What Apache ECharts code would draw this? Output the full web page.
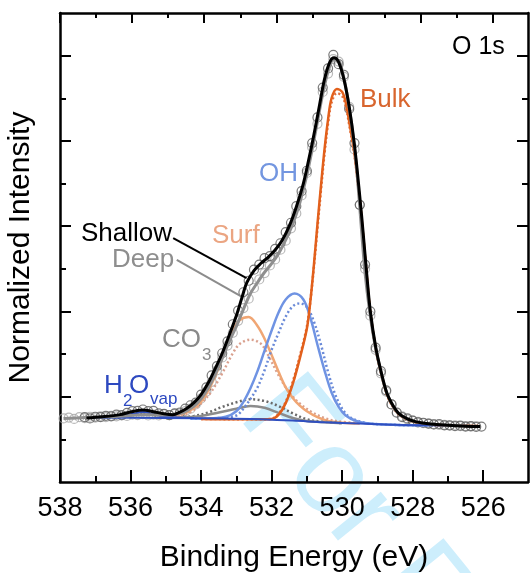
<!DOCTYPE html>
<html>
<head>
<meta charset="utf-8">
<script src="https://cdn.jsdelivr.net/npm/echarts@6.0.0/dist/echarts.min.js"></script>
<style>
  html, body { margin: 0; padding: 0; background: #fff; }
  #chart { width: 532px; height: 573px; }
</style>
</head>
<body>
<div id="chart"></div>
<script>
// O 1s spectrum, shallow (solid) vs deep (dotted) fits
const major_ticks = [526, 528, 530, 532, 534, 536, 538];
const minor_ticks = [527, 529, 531, 533, 535, 537];
const y_major_ticks = [2, 4, 6, 8, 10];
const y_minor_ticks = [1, 3, 5, 7, 9];

const shallow_points = [
  [537.30,1.52],[537.15,1.49],[537.00,1.53],[536.85,1.52],[536.70,1.55],[536.55,1.54],[536.40,1.58],[536.25,1.57],
  [536.10,1.62],[535.95,1.66],[535.80,1.67],[535.65,1.70],[535.50,1.66],[535.35,1.67],[535.20,1.61],[535.05,1.60],
  [534.90,1.57],[534.75,1.61],[534.60,1.63],[534.45,1.72],[534.30,1.80],[534.15,1.86],[534.00,2.05],[533.85,2.22],
  [533.70,2.50],[533.55,2.72],[533.40,3.02],[533.25,3.30],[533.10,3.70],[532.95,4.02],[532.80,4.45],[532.65,4.72],
  [532.50,4.98],[532.35,5.10],[532.20,5.25],[532.05,5.30],[531.90,5.47],[531.75,5.60],[531.60,5.86],[531.45,6.08],
  [531.30,6.47],[531.15,6.82],[531.00,7.30],[530.85,7.95],[530.70,8.55],[530.55,9.25],[530.40,9.70],[530.25,10.02],
  [530.10,9.80],[529.95,9.55],[529.80,8.75],[529.65,7.95],[529.50,6.50],[529.35,5.10],[529.20,4.00],[529.05,3.15],
  [528.90,2.60],[528.75,2.15],[528.60,1.82],[528.45,1.63],[528.30,1.52],[528.15,1.49],[528.00,1.44],[527.85,1.40],
  [527.70,1.39],[527.55,1.37],[527.40,1.35],[527.25,1.36],[527.10,1.33],[526.95,1.33],[526.80,1.31],[526.65,1.32],
  [526.50,1.30],[526.35,1.31],[526.20,1.29],[526.05,1.30]
];
const deep_points = [
  [537.90,1.49],[537.75,1.51],[537.60,1.48],[537.45,1.52],[537.30,1.50],[537.15,1.53],[537.00,1.51],[536.85,1.54],
  [536.70,1.52],[536.55,1.55],[536.40,1.54],[536.25,1.56],[536.10,1.55],[535.95,1.58],[535.80,1.57],[535.65,1.59],
  [535.50,1.56],[535.35,1.58],[535.20,1.56],[535.05,1.59],[534.90,1.57],[534.75,1.60],[534.60,1.61],[534.45,1.66],
  [534.30,1.72],[534.15,1.82],[534.00,1.96],[533.85,2.12],[533.70,2.35],[533.55,2.62],[533.40,2.92],[533.25,3.20],
  [533.10,3.50],[532.95,3.78],[532.80,4.08],[532.65,4.30],[532.50,4.55],[532.35,4.75],[532.20,4.90],[532.05,5.08],
  [531.90,5.22],[531.75,5.45],[531.60,5.66],[531.45,5.95],[531.30,6.30],[531.15,6.72],[531.00,7.25],[530.85,7.85],
  [530.70,8.40],[530.55,9.15],[530.40,9.58],[530.25,9.92],[530.10,9.86],[529.95,9.50],[529.80,8.80],[529.65,7.80],
  [529.50,6.50],[529.35,5.00],[529.20,3.90],[529.05,3.10],[528.90,2.55],[528.75,2.12],[528.60,1.82],[528.45,1.62],
  [528.30,1.54],[528.15,1.47],[528.00,1.44],[527.85,1.41],[527.70,1.38],[527.55,1.37],[527.40,1.35],[527.25,1.34],
  [527.10,1.34],[526.95,1.32],[526.80,1.33],[526.65,1.31],[526.50,1.31],[526.35,1.30],[526.20,1.31]
];

const shallow_fit = [
  [537.25,1.50],[536.8,1.53],[536.3,1.58],[536.0,1.64],[535.65,1.69],[535.35,1.65],[535.05,1.60],[534.8,1.58],
  [534.6,1.64],[534.4,1.73],[534.2,1.86],[534.0,2.05],[533.8,2.32],[533.6,2.66],[533.4,3.02],[533.2,3.45],
  [533.0,3.90],[532.85,4.30],[532.7,4.68],[532.5,4.96],[532.3,5.13],[532.1,5.27],[531.9,5.44],[531.7,5.67],
  [531.5,6.00],[531.3,6.45],[531.1,7.00],[530.95,7.55],[530.8,8.15],[530.65,8.80],[530.5,9.45],[530.35,9.85],
  [530.23,9.95],[530.1,9.85],[529.95,9.45],[529.8,8.80],[529.65,7.90],[529.5,6.70],[529.4,5.80],[529.3,4.85],
  [529.2,4.00],[529.05,3.17],[528.9,2.60],[528.73,2.08],[528.55,1.78],[528.4,1.61],[528.15,1.48],[527.9,1.41],
  [527.5,1.36],[527.0,1.33],[526.5,1.31],[526.09,1.30]
];
const deep_fit = [
  [537.9,1.49],[537.3,1.51],[536.6,1.53],[536.0,1.56],[535.6,1.58],[535.2,1.57],[534.8,1.58],[534.5,1.63],
  [534.2,1.78],[534.0,1.95],[533.8,2.20],[533.6,2.52],[533.4,2.90],[533.2,3.30],[533.0,3.65],[532.8,4.05],
  [532.6,4.42],[532.4,4.68],[532.2,4.92],[532.0,5.12],[531.8,5.36],[531.6,5.68],[531.4,6.05],[531.2,6.55],
  [531.0,7.20],[530.85,7.80],[530.7,8.45],[530.55,9.10],[530.4,9.62],[530.25,9.90],[530.12,9.90],[530.0,9.65],
  [529.85,9.05],[529.72,8.30],[529.6,7.45],[529.52,6.65],[529.45,5.90],[529.35,4.90],[529.22,4.00],[529.07,3.22],
  [528.92,2.65],[528.75,2.12],[528.57,1.80],[528.42,1.62],[528.17,1.48],[527.9,1.41],[527.5,1.36],[527.0,1.33],
  [526.1,1.30]
];

const bulk_shallow = [
  [534.0,1.48],[533.0,1.47],[532.4,1.47],[532.0,1.48],[531.8,1.58],[531.6,1.85],[531.4,2.30],[531.2,2.90],
  [531.0,3.60],[530.9,4.25],[530.8,5.10],[530.7,6.05],[530.6,6.95],[530.5,7.80],[530.4,8.50],[530.3,9.00],
  [530.15,9.22],[530.0,9.15],[529.9,8.90],[529.8,8.45],[529.65,7.70],[529.5,6.62],[529.4,5.75],[529.3,4.82],
  [529.2,3.97],[529.05,3.15],[528.9,2.58],[528.73,2.06],[528.55,1.76],[528.4,1.60],[528.15,1.47],[527.9,1.40],
  [527.5,1.35],[527.0,1.33],[526.1,1.31]
];
const bulk_deep = [
  [534.0,1.48],[532.4,1.47],[532.0,1.49],[531.8,1.60],[531.6,1.88],[531.4,2.35],[531.2,2.95],[531.0,3.65],
  [530.9,4.25],[530.8,5.05],[530.7,5.95],[530.6,6.85],[530.5,7.70],[530.4,8.40],[530.3,8.90],[530.15,9.12],
  [530.0,9.05],[529.9,8.82],[529.8,8.38],[529.65,7.65],[529.5,6.58],[529.4,5.72],[529.3,4.80],[529.2,3.95],
  [529.05,3.13],[528.9,2.57],[528.73,2.05],[528.55,1.75],[528.4,1.59],[528.15,1.46],[527.9,1.40],[527.5,1.35],
  [527.0,1.33],[526.1,1.31]
];
const oh_shallow = [
  [534.3,1.49],[533.8,1.49],[533.3,1.53],[533.0,1.66],[532.8,1.88],[532.6,2.20],[532.4,2.60],[532.2,3.08],
  [532.0,3.55],[531.8,3.98],[531.6,4.28],[531.35,4.42],[531.1,4.28],[530.9,3.85],[530.7,3.22],[530.5,2.62],
  [530.3,2.10],[530.1,1.76],[529.9,1.56],[529.6,1.43],[529.3,1.38],[528.8,1.35],[528.0,1.33],[527.5,1.33]
];
const oh_deep = [
  [534.3,1.49],[533.5,1.50],[533.0,1.56],[532.8,1.72],[532.6,1.95],[532.4,2.22],[532.2,2.62],[532.0,3.10],
  [531.8,3.50],[531.6,3.88],[531.4,4.12],[531.2,4.19],[531.0,4.10],[530.8,3.76],[530.6,3.22],[530.4,2.58],
  [530.2,2.06],[530.0,1.72],[529.8,1.53],[529.5,1.42],[529.2,1.37],[528.8,1.35],[528.0,1.33],[527.5,1.33]
];
const surf_shallow = [
  [535.2,1.50],[534.8,1.55],[534.4,1.64],[534.1,1.80],[533.9,2.00],[533.7,2.30],[533.5,2.68],[533.3,3.15],
  [533.1,3.56],[532.9,3.80],[532.65,3.87],[532.4,3.66],[532.2,3.36],[532.0,2.98],[531.8,2.58],[531.6,2.22],
  [531.4,1.97],[531.2,1.79],[531.0,1.66],[530.7,1.52],[530.4,1.43],[530.0,1.39],[529.5,1.37]
];
const surf_deep = [
  [535.2,1.50],[534.8,1.53],[534.4,1.60],[534.1,1.76],[533.9,1.93],[533.7,2.13],[533.4,2.55],[533.1,3.02],
  [532.9,3.24],[532.6,3.34],[532.3,3.24],[532.1,2.98],[531.8,2.50],[531.5,2.10],[531.2,1.84],[530.9,1.66],
  [530.5,1.50],[530.1,1.42],[529.5,1.38]
];
const co3_shallow = [
  [535.0,1.50],[534.6,1.51],[534.0,1.55],[533.5,1.63],[533.0,1.72],[532.6,1.78],[532.2,1.74],[531.8,1.62],
  [531.4,1.50],[531.0,1.43],[530.6,1.41],[530.0,1.38]
];
const co3_deep = [
  [535.0,1.50],[534.6,1.51],[534.2,1.55],[533.8,1.63],[533.4,1.76],[533.0,1.87],[532.6,1.94],[532.2,1.90],
  [531.8,1.78],[531.4,1.61],[531.0,1.47],[530.6,1.42],[530.0,1.38]
];
const h2o_vap = [
  [537.3,1.51],[536.6,1.52],[536.2,1.55],[535.9,1.60],[535.65,1.64],[535.4,1.60],[535.1,1.54],[534.7,1.51],[534.2,1.50]
];
const background = [
  [537.3,1.51],[535.0,1.50],[533.3,1.49],[532.3,1.47],[531.4,1.44],[530.5,1.40],[529.5,1.37],[528.5,1.34],
  [527.6,1.33],[526.1,1.31]
];

const font_family = 'Liberation Sans, Arial, sans-serif';

function xAxisDef(position, min, ticks, length, main) {
  return {
    type: 'value', position: position, min: min, max: 538, inverse: true,
    axisLine: {show: main, onZero: false, lineStyle: {color: '#000', width: 2.5}},
    axisTick: {show: true, inside: true, length: length, customValues: ticks, lineStyle: {color: '#000', width: 2}},
    axisLabel: {show: false, customValues: ticks},
    splitLine: {show: false}
  };
}

function yAxisDef(position, ticks, length, main) {
  return {
    type: 'value', position: position, min: 0, max: 11,
    axisLine: {show: main, onZero: false, lineStyle: {color: '#000', width: 2.5}},
    axisTick: {show: true, inside: true, length: length, customValues: ticks, lineStyle: {color: '#000', width: 2}},
    axisLabel: {show: false, customValues: ticks},
    splitLine: {show: false}
  };
}

function lineSerie(name, data, color, width, dotted, z) {
  return {
    name: name, type: 'line', data: data, smooth: 0.35, symbol: 'none', z: z,
    lineStyle: {color: color, width: width, type: dotted ? [2, 2.5] : 'solid'}
  };
}

function pointSerie(name, data, color) {
  return {
    name: name, type: 'scatter', data: data, symbol: 'circle', symbolSize: 9, z: 1,
    itemStyle: {color: 'rgba(255,255,255,0)', borderColor: color, borderWidth: 1.2}
  };
}

function label(text, x, y, color, size) {
  return {
    type: 'text', x: x, y: y, z: 10,
    style: {text: text, fill: color, font: size + 'px ' + font_family, textAlign: 'left', textVerticalAlign: 'middle'}
  };
}

let x_bottom = xAxisDef('bottom', 524.73, major_ticks, 12, true);
x_bottom.axisLabel = {show: true, customValues: major_ticks, fontSize: 27, color: '#000', margin: 13, fontFamily: font_family};
x_bottom.name = 'Binding Energy (eV)';
x_bottom.nameLocation = 'middle';
x_bottom.nameGap = 61;
x_bottom.nameTextStyle = {fontSize: 30, color: '#000', fontFamily: font_family};

let y_left = yAxisDef('left', y_major_ticks, 11, true);
y_left.name = 'Normalized Intensity';
y_left.nameLocation = 'middle';
y_left.nameGap = 24;
y_left.nameTextStyle = {fontSize: 30, color: '#000', fontFamily: font_family};

let shallow_line = lineSerie('Shallow', shallow_fit, '#000', 3, false, 8);
shallow_line.markLine = {
  symbol: ['none', 'none'], silent: true, label: {show: false},
  lineStyle: {type: 'solid'},
  data: [
    [{coord: [534.79, 5.72], lineStyle: {color: '#000', width: 2, type: 'solid'}}, {coord: [532.71, 4.78]}],
    [{coord: [534.69, 5.21], lineStyle: {color: '#8c8c8c', width: 2, type: 'solid'}}, {coord: [532.85, 4.35]}]
  ]
};

let option = {
  animation: false,
  backgroundColor: '#fff',
  textStyle: {fontFamily: font_family},
  grid: {left: 60, right: 4, top: 13, bottom: 91, containLabel: false, outerBoundsMode: 'none'},
  xAxis: [
    x_bottom,
    xAxisDef('bottom', 524.73, minor_ticks, 6, false),
    xAxisDef('top', 525.02, major_ticks, 10, true),
    xAxisDef('top', 525.02, minor_ticks, 5, false)
  ],
  yAxis: [
    y_left,
    yAxisDef('left', y_minor_ticks, 6, false),
    yAxisDef('right', y_major_ticks, 11, true),
    yAxisDef('right', y_minor_ticks, 6, false)
  ],
  graphic: [
    {
      type: 'text', x: 216, y: 433, rotation: -0.89, z: -1,
      style: {text: 'For Review', fill: '#cdeefc', font: '121px ' + font_family, textAlign: 'left', textVerticalAlign: 'bottom'}
    },
    label('O 1s', 452, 47, '#000', 25),
    label('Bulk', 360, 100, '#d8652e', 26),
    label('OH', 259, 174, '#7396e0', 26),
    label('Shallow', 81, 234, '#000', 26),
    label('Surf', 212, 236, '#eba582', 26),
    label('Deep', 112, 260, '#8e8e8e', 26),
    label('CO', 162, 340, '#8a8a8a', 26),
    label('3', 202, 355, '#8a8a8a', 17),
    label('H', 104, 386, '#2d49c0', 26),
    label('2', 123, 401, '#2d49c0', 17),
    label('O', 129, 386, '#2d49c0', 26),
    label('vap', 150, 399, '#2d49c0', 17)
  ],
  series: [
    pointSerie('Deep data', deep_points, '#a8a8a8'),
    pointSerie('Shallow data', shallow_points, '#5a5a5a'),
    lineSerie('Surf deep', surf_deep, '#d9a08e', 2.5, true, 3),
    lineSerie('Surf', surf_shallow, '#f0a674', 2.5, false, 3),
    lineSerie('CO3 deep', co3_deep, '#6a6a6a', 2.5, true, 3),
    lineSerie('CO3', co3_shallow, '#8c8c8c', 2.5, false, 3),
    lineSerie('OH deep', oh_deep, '#6a8ad8', 2.5, true, 3),
    lineSerie('OH', oh_shallow, '#6f93e3', 2.5, false, 3),
    lineSerie('Bulk deep', bulk_deep, '#e27040', 2.5, true, 3),
    lineSerie('Bulk', bulk_shallow, '#e2601c', 2.5, false, 3),
    lineSerie('H2O vap', h2o_vap, '#2f4fc0', 2, false, 4),
    lineSerie('Background', background, '#2f4fc0', 2, false, 4),
    lineSerie('Deep', deep_fit, '#8f8f8f', 3, false, 7),
    shallow_line
  ]
};

let chart = echarts.init(document.getElementById('chart'));
chart.setOption(option);
</script>
</body>
</html>
